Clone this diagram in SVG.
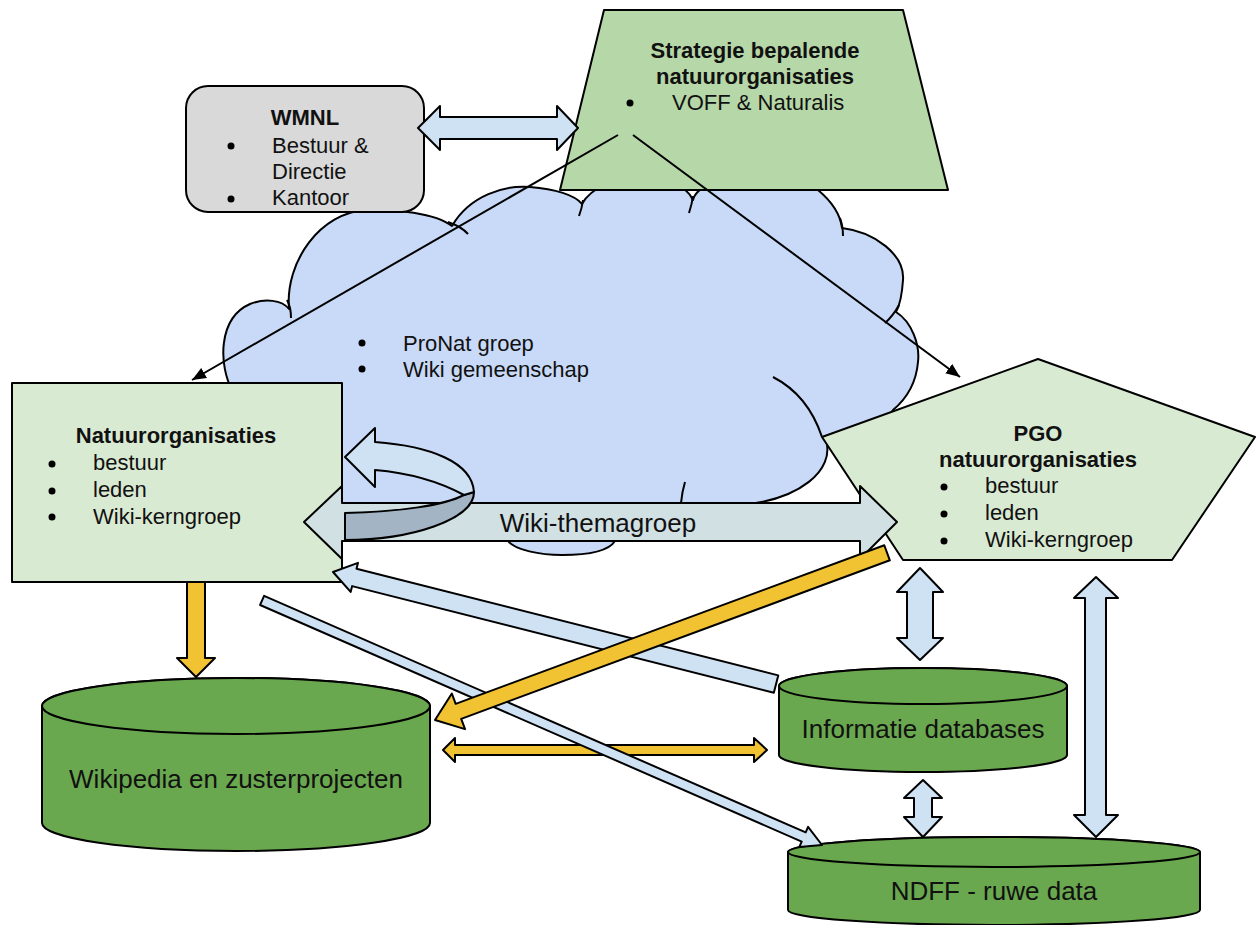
<svg xmlns="http://www.w3.org/2000/svg" width="1257" height="925" viewBox="0 0 1257 925">
<defs>
<style>
.s{stroke:#000;stroke-width:2;stroke-linejoin:round}
.t{font-family:"Liberation Sans",Arial,sans-serif;font-size:22px;fill:#111}
.b{font-weight:bold}
.big{font-size:26px}
.c{text-anchor:middle}
.blue{fill:#cfe2f3}
.yel{fill:#f1c232}
.cyl{fill:#6aa84f}
.tick{fill:none;stroke:#000;stroke-width:2}
.ln{stroke:#000;stroke-width:2;fill:none}
</style>
<marker id="ah" viewBox="0 0 12 10" refX="12" refY="5" markerWidth="14" markerHeight="12" markerUnits="userSpaceOnUse" orient="auto">
<path d="M0,0 L12,5 L0,10 z" fill="#000"/>
</marker>
</defs>
<rect width="1257" height="925" fill="#fff"/>

<g id="cloud">
<path class="s" fill="#c9daf8" d="M233,392 C218,365 218,318 250,304 C265,298 282,300 289,309 C285,262 320,212 367,210 C395,209 435,213 452,226 C470,195 505,185 530,187 C555,189 575,195 582,204 C600,170 680,170 693,200 C700,170 800,170 818,190 C830,200 840,212 842,228 C875,232 905,255 903,280 C902,295 900,305 896,312 C912,322 920,345 918,362 C916,385 905,400 893,410 L880,428 L826,440 C835,470 800,500 740,505 L640,520 L615,541 C608,552 585,555 562,555 C540,555 515,550 508,541 L400,525 L300,520 Z"/>
<path class="tick" d="M287,300 Q291,307 291,318"/>
<path class="tick" d="M448,222 Q462,227 468,234"/>
<path class="tick" d="M583,200 Q582,208 579,216"/>
<path class="tick" d="M693,196 Q692,204 689,213"/>
<path class="tick" d="M840,218 Q843,226 843,236"/>
<path class="tick" d="M899,305 Q893,316 885,323"/>
<path class="tick" d="M773,377 Q808,395 822,437"/>
<path class="tick" d="M685,482 Q682,492 681,503"/>
<circle cx="362" cy="343" r="3.5" fill="#000"/>
<circle cx="362" cy="369" r="3.5" fill="#000"/>
<text class="t" x="403" y="351">ProNat groep</text>
<text class="t" x="403" y="377">Wiki gemeenschap</text>
</g>

<g id="wmnl">
<rect class="s" x="186" y="86" width="238" height="126" rx="22" fill="#d9d9d9"/>
<text class="t b c" x="305" y="125">WMNL</text>
<circle cx="231" cy="146" r="3.5" fill="#000"/>
<circle cx="231" cy="199" r="3.5" fill="#000"/>
<text class="t" x="272" y="153">Bestuur &amp;</text>
<text class="t" x="272" y="179">Directie</text>
<text class="t" x="272" y="205">Kantoor</text>
</g>

<g id="strategie">
<path class="s" fill="#b6d7a8" d="M604,10 L903,10 L948,190 L560,190 Z"/>
<text class="t b c" x="755" y="58">Strategie bepalende</text>
<text class="t b c" x="755" y="84">natuurorganisaties</text>
<circle cx="630" cy="103" r="3.5" fill="#000"/>
<text class="t" x="672" y="110">VOFF &amp; Naturalis</text>
</g>

<g id="natuur">
<rect class="s" x="12" y="383" width="330" height="199" fill="#d9ead3"/>
<text class="t b c" x="176" y="443">Natuurorganisaties</text>
<circle cx="52" cy="464" r="3.5" fill="#000"/>
<circle cx="52" cy="491" r="3.5" fill="#000"/>
<circle cx="52" cy="517" r="3.5" fill="#000"/>
<text class="t" x="93" y="470">bestuur</text>
<text class="t" x="93" y="497">leden</text>
<text class="t" x="93" y="524">Wiki-kerngroep</text>
</g>

<g id="pgo">
<path class="s" fill="#d9ead3" d="M1038,359 L1255,437 L1172,560 L903,560 L822,437 Z"/>
<text class="t b c" x="1038" y="441">PGO</text>
<text class="t b c" x="1038" y="467">natuurorganisaties</text>
<circle cx="944" cy="487" r="3.5" fill="#000"/>
<circle cx="944" cy="514" r="3.5" fill="#000"/>
<circle cx="944" cy="541" r="3.5" fill="#000"/>
<text class="t" x="985" y="493">bestuur</text>
<text class="t" x="985" y="520">leden</text>
<text class="t" x="985" y="547">Wiki-kerngroep</text>
</g>

<g id="wikipedia">
<path class="s cyl" d="M42,706 A194,28 0 0 1 430,706 L430,823 A194,28 0 0 1 42,823 Z"/>
<ellipse class="s cyl" cx="236" cy="706" rx="194" ry="28"/>
<text class="t big c" x="236" y="788">Wikipedia en zusterprojecten</text>
</g>

<g id="informatie">
<path class="s cyl" d="M779,686 A144,18 0 0 1 1067,686 L1067,755 A144,17 0 0 1 779,755 Z"/>
<ellipse class="s cyl" cx="923" cy="686" rx="144" ry="18"/>
<text class="t big c" x="923" y="738">Informatie databases</text>
</g>

<g id="ndff">
<path class="s cyl" d="M788,852 A206,15 0 0 1 1200,852 L1200,910 A206,15 0 0 1 788,910 Z"/>
<ellipse class="s cyl" cx="994" cy="852" rx="206" ry="15"/>
<text class="t big c" x="994" y="900">NDFF - ruwe data</text>
</g>

<g id="connectors">
<path class="s blue" d="M418,128 L440,106 L440,117 L557,117 L557,106 L578,128 L557,150 L557,139 L440,139 L440,150 Z"/>
<path class="ln" d="M618,135 L192,380" marker-end="url(#ah)"/>
<path class="ln" d="M633,135 L960,377" marker-end="url(#ah)"/>

<path class="s" fill="#d0e0e3" d="M304,522 L342,486 L342,503 L860,503 L860,486 L897,522 L860,559 L860,541 L342,541 L342,559 Z"/>
<text class="t big c" x="598" y="532">Wiki-themagroep</text>
<path class="s" fill="#a3b4c4" d="M345,513 C400,512 445,505 464,495 L474,492 C474,520 410,540 345,540 Z"/>
<path class="s blue" d="M345,457 L375,428 L375,442 C430,446 472,462 474,492 L464,495 C440,482 410,473 375,470 L375,487 Z"/>

<path class="s yel" d="M443,750 L455,738 L455,745 L754,745 L754,738 L767,750 L754,762 L754,755 L455,755 L455,762 Z"/>
<g transform="translate(333,572) rotate(14.2)"><path class="s blue" d="M0,0 L22,-15 L22,-9 L457,-9 L457,9 L22,9 L22,15 Z"/></g>
<g transform="translate(822,845) rotate(-156.4)"><path class="s blue" d="M0,0 L20,-11 L20,-5 L611,-5 L611,5 L20,5 L20,11 Z"/></g>
<g transform="translate(435,720) rotate(-20.3)"><path class="s yel" d="M0,0 L25,-19 L25,-8 L482,-8 L482,8 L25,8 L25,19 Z"/></g>
<path class="s yel" d="M187,582 L205,582 L205,658 L215,658 L196,677 L177,658 L187,658 Z"/>
<path class="s blue" d="M920,568 L943,592 L933,592 L933,638 L943,638 L920,660 L897,638 L907,638 L907,592 L897,592 Z"/>
<path class="s blue" d="M923,780 L942,798 L932,798 L932,817 L942,817 L923,837 L904,817 L914,817 L914,798 L904,798 Z"/>
<path class="s blue" d="M1096,577 L1118,598 L1106,598 L1106,815 L1118,815 L1096,837 L1074,815 L1085,815 L1085,598 L1074,598 Z"/>
</g>
</svg>
